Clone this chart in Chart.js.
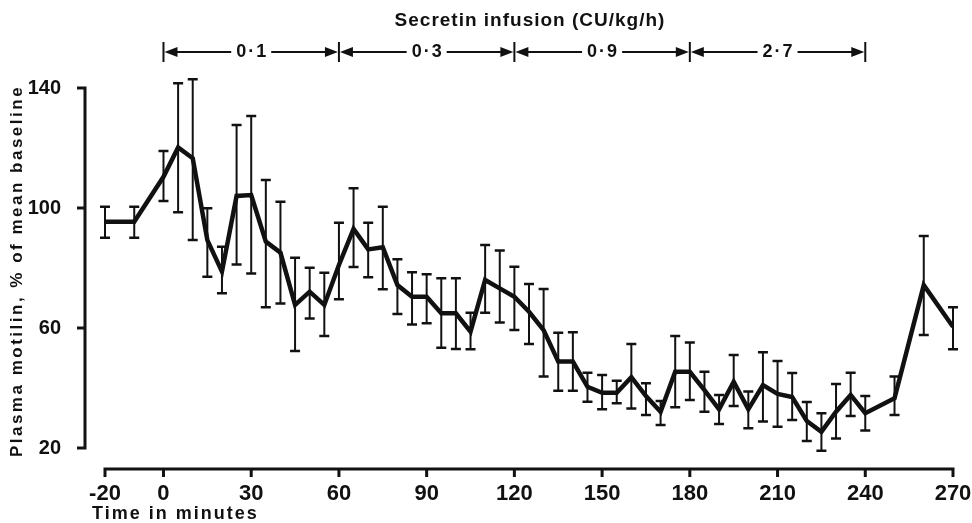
<!DOCTYPE html>
<html>
<head>
<meta charset="utf-8">
<script src="https://cdn.jsdelivr.net/npm/chart.js@4"></script>
<style>
  html, body { margin: 0; padding: 0; background: #fff; }
  #wrap { width: 972px; height: 523px; }
</style>
</head>
<body>
<div id="wrap"><canvas id="myChart"></canvas></div>
<script>
// time points (min) and plasma motilin, % of mean baseline (mean and error bar ends)
const minutes = [-20, -10, 0, 5, 10, 15, 20, 25, 30, 35, 40, 45, 50, 55, 60, 65, 70, 75, 80, 85, 90, 95, 100, 105, 110, 115, 120,
  125, 130, 135, 140, 145, 150, 155, 160, 165, 170, 175, 180, 185, 190, 195, 200, 205, 210, 215, 220, 225, 230, 235, 240, 250, 260, 270];
const motilin = [95.4, 95.4, 110.4, 120.2, 116.6, 89.3, 78.8, 104, 104.3, 88.8, 85.1, 67.7, 72.1, 67.7, 81, 93, 86.2, 86.9, 74.3, 70.4, 70.4,
  64.9, 64.9, 58.8, 76, 73.2, 70.4, 65.4, 59.3, 48.8, 48.8, 40.4, 38.4, 38.4, 43.6, 37.3, 32.1, 45.4, 45.4, 39.3, 32.9, 42.1, 32.9, 41, 38,
  37, 29, 25.4, 32.1, 37.7, 31.6, 36.6, 74.3, 60.4];
const errUpper = [100.4, 100.4, 119, 141.6, 142.9, 99.9, 87.1, 127.7, 130.7, 109.3, 102.1, 83.4, 80.1, 78.4, 95.1, 106.6, 95.1, 100.4, 82.9,
  78.6, 77.9, 76.6, 76.6, 65.1, 87.7, 85.8, 80.4, 74.7, 73, 58.4, 58.6, 45.1, 44.3, 42.4, 54.7, 41.6, 35.7, 57.3, 55.2, 45.4, 37.7, 51, 38.8,
  51.9, 49, 45, 35.3, 31.6, 41.3, 45.1, 37.3, 43.8, 90.7, 66.9];
const errLower = [90.1, 90.1, 102.3, 98.6, 89.3, 77.1, 71.6, 81.2, 78.2, 66.9, 68.2, 52.3, 63.2, 57.3, 69.6, 80.3, 76.9, 72.9, 64.7, 61.2,
  61.6, 53.4, 53, 52.9, 65.1, 61.8, 59.3, 54.7, 43.8, 39.1, 39.1, 35.4, 32.9, 34.9, 33.2, 31, 27.7, 33.6, 36, 32.1, 28, 34, 26.6, 28.8, 27.1,
  29.3, 22.3, 19.1, 23.2, 30.7, 25.8, 31, 57.7, 52.9];

const xTicks = [-20, 0, 30, 60, 90, 120, 150, 180, 210, 240, 270];
const yTicks = [20, 60, 100, 140];

// secretin infusion periods
const doseBounds = [0, 60, 120, 180, 240];
const doseLabels = ["0·1", "0·3", "0·9", "2·7"];

const ink = "#111";
const face = "Liberation Sans";

const overlay = {
  id: "overlay",
  beforeDatasetsDraw(chart) {
    const { ctx, scales: { x, y } } = chart;
    ctx.save();
    ctx.strokeStyle = ink;
    ctx.lineCap = "butt";
    minutes.forEach((t, i) => {
      const px = x.getPixelForValue(t);
      const top = y.getPixelForValue(errUpper[i]);
      const bot = y.getPixelForValue(errLower[i]);
      ctx.lineWidth = 2;
      ctx.beginPath();
      ctx.moveTo(px, top);
      ctx.lineTo(px, bot);
      ctx.stroke();
      ctx.lineWidth = 2.5;
      ctx.beginPath();
      ctx.moveTo(px - 5, top);
      ctx.lineTo(px + 5, top);
      ctx.moveTo(px - 5, bot);
      ctx.lineTo(px + 5, bot);
      ctx.stroke();
    });
    ctx.restore();
  },
  afterDraw(chart) {
    const { ctx, chartArea, scales: { x, y } } = chart;
    ctx.save();
    ctx.strokeStyle = ink;
    ctx.fillStyle = ink;

    // detached axes
    ctx.lineWidth = 3;
    const ax = chartArea.left - 20;
    ctx.beginPath();
    ctx.moveTo(ax, y.getPixelForValue(140));
    ctx.lineTo(ax, y.getPixelForValue(20));
    yTicks.forEach(v => {
      const py = y.getPixelForValue(v);
      ctx.moveTo(ax + 1.5, py);
      ctx.lineTo(ax - 8, py);
    });
    ctx.stroke();

    const ay = chartArea.bottom + 21;
    ctx.beginPath();
    ctx.moveTo(x.getPixelForValue(-20), ay);
    ctx.lineTo(x.getPixelForValue(270), ay);
    xTicks.forEach(v => {
      const px = x.getPixelForValue(v);
      ctx.moveTo(px, ay - 1.5);
      ctx.lineTo(px, ay + 8);
    });
    ctx.stroke();

    // axis titles
    ctx.textBaseline = "middle";
    ctx.font = "bold 17px '" + face + "'";
    ctx.letterSpacing = "2.5px";
    ctx.save();
    ctx.translate(17, 271);
    ctx.rotate(-Math.PI / 2);
    ctx.textAlign = "center";
    ctx.fillText("Plasma motilin, % of mean baseline", 0, 0);
    ctx.restore();

    ctx.textAlign = "left";
    ctx.font = "bold 18px '" + face + "'";
    ctx.letterSpacing = "2px";
    ctx.fillText("Time in minutes", 92, 514);

    // secretin infusion annotation
    ctx.textAlign = "center";
    ctx.font = "bold 19px '" + face + "'";
    ctx.letterSpacing = "1px";
    ctx.fillText("Secretin infusion (CU/kg/h)", 530, 21);

    const ry = 52;
    ctx.font = "bold 18px '" + face + "'";
    ctx.letterSpacing = "2px";
    doseBounds.forEach(v => {
      const px = x.getPixelForValue(v);
      ctx.lineWidth = 2;
      ctx.beginPath();
      ctx.moveTo(px, ry - 10);
      ctx.lineTo(px, ry + 10);
      ctx.stroke();
    });
    doseLabels.forEach((lab, k) => {
      const xa = x.getPixelForValue(doseBounds[k]);
      const xb = x.getPixelForValue(doseBounds[k + 1]);
      const mid = (xa + xb) / 2;
      const w = ctx.measureText(lab).width;
      ctx.fillText(lab, mid + 1, ry);
      ctx.lineWidth = 2;
      ctx.beginPath();
      ctx.moveTo(xa + 12, ry);
      ctx.lineTo(mid - w / 2 - 4, ry);
      ctx.moveTo(mid + w / 2 + 4, ry);
      ctx.lineTo(xb - 12, ry);
      ctx.stroke();
      ctx.beginPath();
      ctx.moveTo(xa + 1, ry);
      ctx.lineTo(xa + 14, ry - 5);
      ctx.lineTo(xa + 14, ry + 5);
      ctx.closePath();
      ctx.moveTo(xb - 1, ry);
      ctx.lineTo(xb - 14, ry - 5);
      ctx.lineTo(xb - 14, ry + 5);
      ctx.closePath();
      ctx.fill();
    });
    ctx.restore();
  }
};

const ctx = document.getElementById("myChart");

new Chart(ctx, {
  type: "line",
  data: {
    datasets: [
      {
        data: minutes.map((t, i) => ({ x: t, y: motilin[i] })),
        borderColor: ink,
        borderWidth: 4.5,
        pointRadius: 0,
        tension: 0,
        borderJoinStyle: "miter",
        fill: false,
      },
    ],
  },
  options: {
    responsive: true,
    maintainAspectRatio: false,
    animation: false,
    devicePixelRatio: 1,
    layout: { padding: { top: 88, right: 19, bottom: 0, left: 0 } },
    plugins: { legend: { display: false }, tooltip: { enabled: false } },
    scales: {
      x: {
        type: "linear",
        min: -20,
        max: 270,
        afterBuildTicks: (s) => { s.ticks = xTicks.map(v => ({ value: v })); },
        afterFit: (s) => { s.height = 75; s.paddingLeft = 0; s.paddingRight = 0; },
        grid: { display: false },
        border: { display: false },
        ticks: {
          autoSkip: false,
          maxRotation: 0,
          padding: 25,
          color: ink,
          font: { family: face, size: 22, weight: "bold" },
        },
      },
      y: {
        min: 20,
        max: 140,
        afterBuildTicks: (s) => { s.ticks = yTicks.map(v => ({ value: v })); },
        afterFit: (s) => { s.width = 105; s.paddingTop = 0; s.paddingBottom = 0; },
        grid: { display: false },
        border: { display: false },
        ticks: {
          padding: 36,
          color: ink,
          font: { family: face, size: 20, weight: "bold" },
        },
      },
    },
  },
  plugins: [overlay],
});
</script>
</body>
</html>
